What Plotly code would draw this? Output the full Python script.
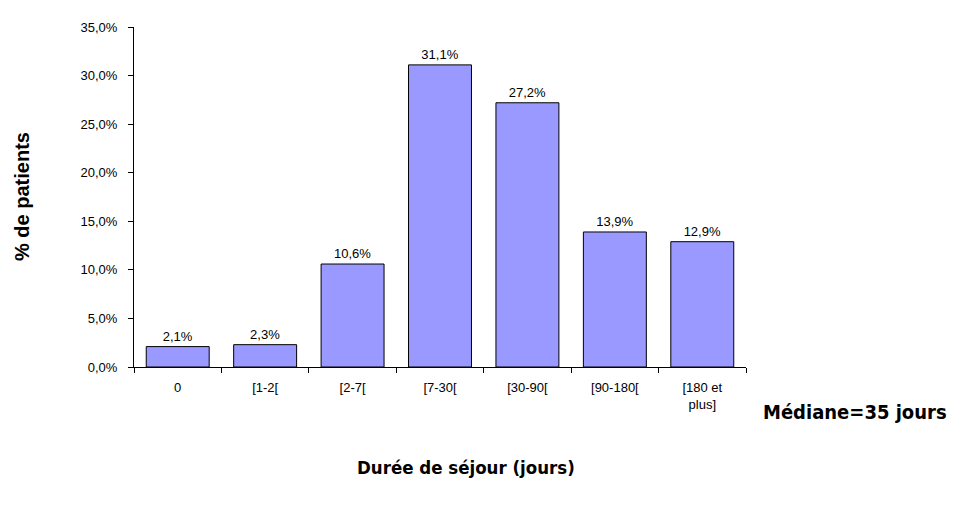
import plotly.graph_objects as go

categories = ["0", "[1-2[", "[2-7[", "[7-30[", "[30-90[", "[90-180[", "[180 et<br>plus]"]
pct_patients = [2.1, 2.3, 10.6, 31.1, 27.2, 13.9, 12.9]
y_ticks = [0, 5, 10, 15, 20, 25, 30, 35]
y_tick_labels = [f"{v:.1f}%".replace(".", ",") for v in y_ticks]

narrow = "Liberation Sans Narrow, DejaVu Sans Condensed, Arial Narrow, sans-serif"
base = "Liberation Sans, Arial, sans-serif"

fig = go.Figure()
fig.add_trace(go.Bar(
    x=categories,
    y=pct_patients,
    marker=dict(color="#9999FF", line=dict(color="black", width=1)),
    texttemplate="%{y:.1f}%",
    textposition="outside",
    textfont=dict(family=base, size=13, color="black"),
    cliponaxis=False,
))

# page body has an 8px margin, so the figure is sized/offset to compensate
fig.update_layout(
    width=954, height=498,
    margin=dict(l=126, r=216, t=16, b=139),
    plot_bgcolor="white",
    paper_bgcolor="white",
    separators=", ",
    bargap=0.28,
    showlegend=False,
    font=dict(family=base, size=13, color="black"),
    xaxis=dict(
        type="category",
        showline=True, linecolor="black", linewidth=1,
        ticks="outside", tickson="boundaries", ticklen=5, tickcolor="black",
        ticklabelstandoff=8,
        showgrid=False,
        tickfont=dict(family=base, size=13),
    ),
    yaxis=dict(
        range=[0, 35],
        tickvals=y_ticks,
        ticktext=y_tick_labels,
        showline=True, linecolor="black", linewidth=1,
        ticks="outside", ticklen=5, tickcolor="black",
        ticklabelstandoff=8,
        showgrid=False, zeroline=False,
        tickfont=dict(family=base, size=13),
    ),
    annotations=[
        dict(text="<b>% de patients</b>", xref="paper", yref="paper",
             x=0, y=0.5, xanchor="center", yanchor="middle",
             xshift=-112, textangle=-90, showarrow=False,
             font=dict(family=base, size=20, color="black")),
        dict(text="<b>Durée de séjour (jours)</b>", xref="paper", yref="paper",
             x=0.5, y=0, xanchor="center", yanchor="middle",
             xshift=26, yshift=-100, showarrow=False,
             font=dict(family=narrow, size=18.5, color="black")),
        dict(text="<b>Médiane=35 jours</b>", xref="paper", yref="paper",
             x=1.0, y=0, xanchor="left", yanchor="middle",
             xshift=15, yshift=-45, showarrow=False,
             font=dict(family=narrow, size=20, color="black")),
    ],
)

fig.write_html("out.html")
